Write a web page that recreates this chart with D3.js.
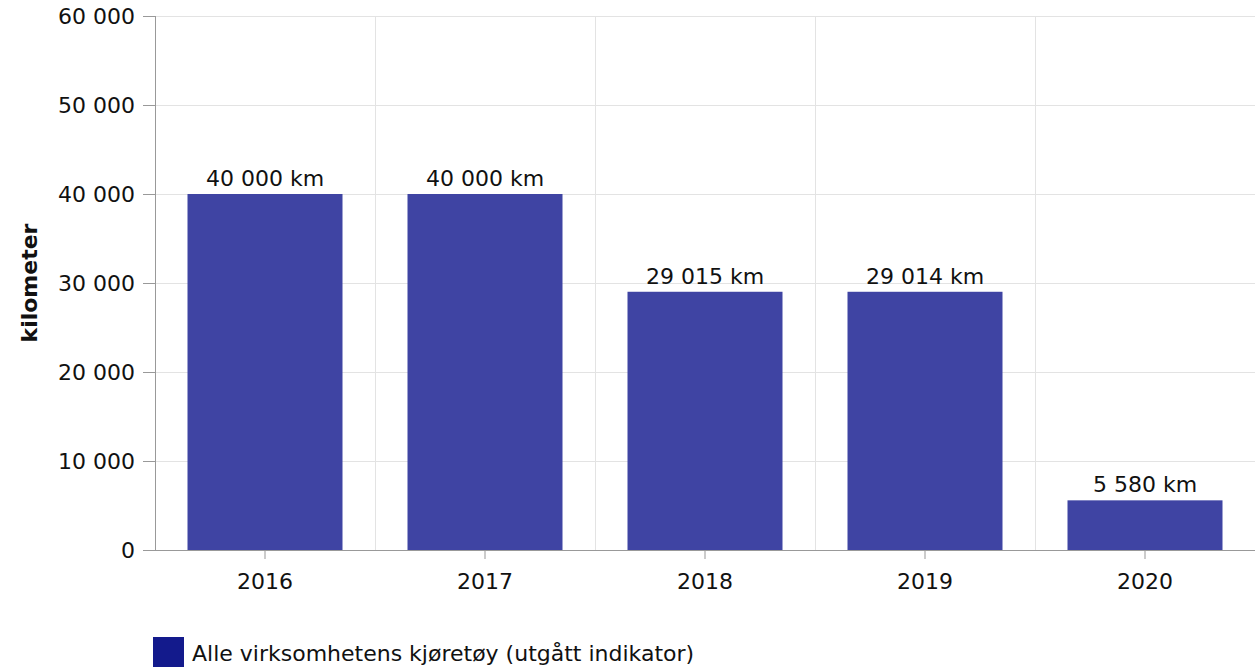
<!DOCTYPE html>
<html>
<head>
<meta charset="utf-8">
<script src="https://cdn.jsdelivr.net/npm/d3@7"></script>
<style>
  body { margin: 0; background: #fff; }
  svg { font-family: "DejaVu Sans", Verdana, sans-serif; }
</style>
</head>
<body>
<div class="chart"></div>
<script>
// data
var years = ["2016", "2017", "2018", "2019", "2020"];
var km = [40000, 40000, 29015, 29014, 5580];
var yTicks = [0, 10000, 20000, 30000, 40000, 50000, 60000];
var seriesName = "Alle virksomhetens kjøretøy (utgått indikator)";

var W = 1256, H = 667;
var mLeft = 155, mRight = 1255, mTop = 16, mBottom = 550;
var fs = 22;

var fmt = function(v) { return d3.format(",")(v).replace(/,/g, " "); };

var svg = d3.select("div.chart").append("svg")
    .attr("width", W)
    .attr("height", H);

var x = d3.scaleBand().domain(years).range([mLeft, mRight]).paddingInner(0).paddingOuter(0);
var y = d3.scaleLinear().domain([0, 60000]).range([mBottom, mTop]);

// gridlines
svg.append("g").selectAll("line")
    .data(yTicks.filter(function(d){ return d > 0; }))
    .enter().append("line")
    .attr("x1", mLeft).attr("x2", mRight)
    .attr("y1", function(d){ return y(d) + 0.5; })
    .attr("y2", function(d){ return y(d) + 0.5; })
    .attr("stroke", "#e3e3e3");

svg.append("g").selectAll("line")
    .data(years.slice(1))
    .enter().append("line")
    .attr("x1", function(d){ return x(d) + 0.5; })
    .attr("x2", function(d){ return x(d) + 0.5; })
    .attr("y1", mTop).attr("y2", mBottom)
    .attr("stroke", "#e3e3e3");

// bars
var barW = 155;
svg.append("g").selectAll("rect")
    .data(km)
    .enter().append("rect")
    .attr("x", function(d, i){ return x(years[i]) + (x.bandwidth() - barW) / 2; })
    .attr("width", barW)
    .attr("y", function(d){ return y(d); })
    .attr("height", function(d){ return mBottom - y(d); })
    .attr("fill", "#3f44a3");

// value labels
svg.append("g").selectAll("text")
    .data(km)
    .enter().append("text")
    .attr("x", function(d, i){ return x(years[i]) + x.bandwidth() / 2; })
    .attr("y", function(d){ return y(d) - 8; })
    .attr("text-anchor", "middle")
    .attr("font-size", fs)
    .attr("fill", "#111")
    .text(function(d){ return fmt(d) + " km"; });

// y axis
var yAxis = svg.append("g")
    .attr("transform", "translate(" + mLeft + ",0)")
    .call(d3.axisLeft(y).tickValues(yTicks).tickSize(12).tickPadding(8).tickFormat(fmt));
yAxis.select(".domain").attr("stroke", "#999").attr("d", "M0.5," + mTop + "V" + mBottom);
yAxis.selectAll(".tick line").attr("stroke", "#999");
yAxis.selectAll(".tick text").attr("font-size", fs).attr("fill", "#111")
    .attr("font-family", "DejaVu Sans, Verdana, sans-serif");

// x axis
var xAxis = svg.append("g")
    .attr("transform", "translate(0," + mBottom + ")")
    .call(d3.axisBottom(x).tickSize(9).tickPadding(14));
xAxis.select(".domain").attr("stroke", "#999").attr("d", "M" + (mLeft - 12) + ",0.5H" + mRight);
xAxis.selectAll(".tick line").attr("stroke", "#999");
xAxis.selectAll(".tick text").attr("font-size", fs).attr("fill", "#111")
    .attr("font-family", "DejaVu Sans, Verdana, sans-serif");

// y axis title
svg.append("text")
    .attr("transform", "translate(37," + ((mTop + mBottom) / 2) + ")rotate(-90)")
    .attr("text-anchor", "middle")
    .attr("font-size", fs)
    .attr("font-weight", "bold")
    .attr("fill", "#111")
    .text("kilometer");

// legend
var legend = svg.append("g").attr("transform", "translate(153,637)");
legend.append("rect")
    .attr("width", 31).attr("height", 30)
    .attr("fill", "#131a8c");
legend.append("text")
    .attr("x", 39).attr("y", 24)
    .attr("font-size", fs)
    .attr("fill", "#111")
    .text(seriesName);
</script>
</body>
</html>
